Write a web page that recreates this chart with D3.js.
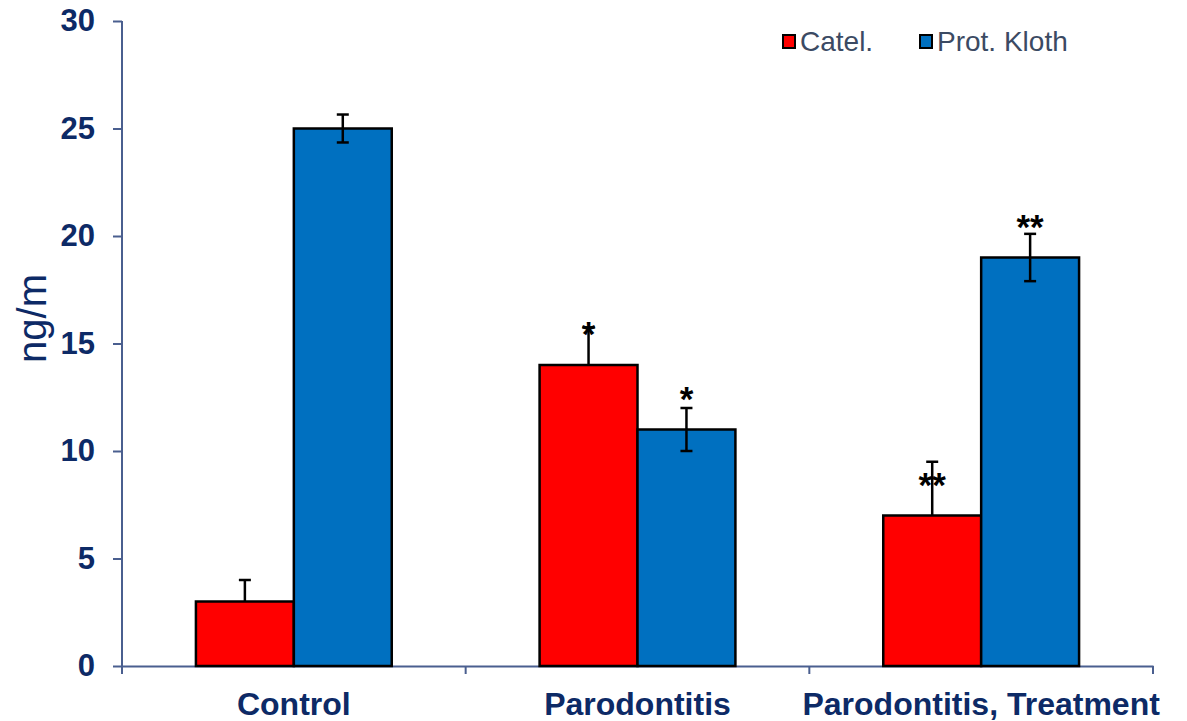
<!DOCTYPE html>
<html>
<head>
<meta charset="utf-8">
<script src="https://cdn.jsdelivr.net/npm/d3@7"></script>
<style>
  body { margin: 0; background: #fff; }
  svg { font-family: Arial, "Liberation Sans", sans-serif; }
</style>
</head>
<body>
<script>
const width = 1187;
const height = 721;

// Data
const groups = ["Control", "Parodontitis", "Parodontitis, Treatment"];
const seriesNames = ["Catel.", "Prot. Kloth"];
const seriesColors = ["#ff0000", "#0070c0"];
const catelValues = [3, 14, 7];
const klothValues = [25, 11, 19];
const catelErrUp = [1, 1.75, 2.5];
const catelErrDown = [0, 0, 0];
const klothErrUp = [0.65, 1, 1.1];
const klothErrDown = [0.65, 1, 1.1];
const catelMarks = ["", "*", "**"];
const klothMarks = ["", "*", "**"];
const yTicks = [0, 5, 10, 15, 20, 25, 30];

const axisColor = "#4a5f8f";
const textColor = "#0d2a66";

const margin = { left: 122, right: 34, top: 21, bottom: 55 };

const svg = d3.select("body").append("svg")
    .attr("width", width)
    .attr("height", height);

const x0 = d3.scaleBand()
    .domain(groups)
    .range([margin.left, width - margin.right]);

const x1 = d3.scaleBand()
    .domain(seriesNames)
    .range([0, x0.bandwidth()])
    .paddingOuter(0.755)
    .paddingInner(0);

const y = d3.scaleLinear()
    .domain([0, 30])
    .range([height - margin.bottom, margin.top]);

// Build table of bars
const bars = [];
groups.forEach((g, i) => {
    bars.push({ group: g, series: seriesNames[0], value: catelValues[i], up: catelErrUp[i], down: catelErrDown[i], mark: catelMarks[i], color: seriesColors[0] });
    bars.push({ group: g, series: seriesNames[1], value: klothValues[i], up: klothErrUp[i], down: klothErrDown[i], mark: klothMarks[i], color: seriesColors[1] });
});

// Y axis
const yAxis = svg.append("g")
    .attr("transform", `translate(${margin.left},0)`)
    .call(d3.axisLeft(y).tickValues(yTicks).tickSize(9).tickPadding(18));
yAxis.select(".domain").attr("stroke", axisColor).attr("stroke-width", 2)
    .attr("d", `M0,${y(30)}V${y(0) + 8}`);
yAxis.selectAll(".tick line").attr("stroke", axisColor).attr("stroke-width", 2);
yAxis.selectAll(".tick text")
    .attr("fill", textColor)
    .style("font-size", "31px")
    .style("font-weight", "bold");

// X axis
const xAxis = svg.append("g")
    .attr("transform", `translate(0,${y(0)})`)
    .call(d3.axisBottom(x0).tickSize(0).tickPadding(26));
xAxis.select(".domain").attr("stroke", axisColor).attr("stroke-width", 2);
xAxis.selectAll(".tick text")
    .attr("fill", textColor)
    .style("font-size", "32px")
    .style("font-weight", "bold");
// category boundary ticks
const boundaries = groups.map(g => x0(g)).concat([x0.range()[1]]);
xAxis.selectAll(".boundary")
    .data(boundaries)
    .enter().append("line")
    .attr("x1", d => d).attr("x2", d => d)
    .attr("y1", 0).attr("y2", 8)
    .attr("stroke", axisColor)
    .attr("stroke-width", 2);

// Y label
svg.append("text")
    .attr("transform", `translate(46,${(y(30) + y(0)) / 2 - 25}) rotate(-90)`)
    .attr("text-anchor", "middle")
    .attr("fill", textColor)
    .style("font-size", "40px")
    .text("ng/m");

// Bars
const barG = svg.append("g");
barG.selectAll("rect")
    .data(bars)
    .enter().append("rect")
    .attr("x", d => x0(d.group) + x1(d.series))
    .attr("y", d => y(d.value))
    .attr("width", x1.bandwidth())
    .attr("height", d => y(0) - y(d.value))
    .attr("fill", d => d.color)
    .attr("stroke", "#000")
    .attr("stroke-width", 2.5);

// Error bars
const errG = svg.append("g").attr("stroke", "#000").attr("stroke-width", 2.5);
const cx = d => x0(d.group) + x1(d.series) + x1.bandwidth() / 2;
errG.selectAll(".stem")
    .data(bars)
    .enter().append("line")
    .attr("x1", cx).attr("x2", cx)
    .attr("y1", d => y(d.value - d.down))
    .attr("y2", d => y(d.value + d.up));
errG.selectAll(".capTop")
    .data(bars)
    .enter().append("line")
    .attr("x1", d => cx(d) - 6).attr("x2", d => cx(d) + 6)
    .attr("y1", d => y(d.value + d.up))
    .attr("y2", d => y(d.value + d.up));
errG.selectAll(".capBottom")
    .data(bars.filter(d => d.down > 0))
    .enter().append("line")
    .attr("x1", d => cx(d) - 6).attr("x2", d => cx(d) + 6)
    .attr("y1", d => y(d.value - d.down))
    .attr("y2", d => y(d.value - d.down));

// Significance marks, centred about 1.8 units above each bar
svg.append("g").selectAll("text")
    .data(bars.filter(d => d.mark))
    .enter().append("text")
    .attr("x", cx)
    .attr("y", d => y(d.value + 1.8) + 20)
    .attr("text-anchor", "middle")
    .attr("fill", "#000")
    .style("font-size", "35px")
    .style("font-weight", "bold")
    .text(d => d.mark);

// Legend
const legend = svg.append("g").attr("transform", "translate(783,30)");
const legendX = [0, 137];
seriesNames.forEach((s, i) => {
    const item = legend.append("g").attr("transform", `translate(${legendX[i]},0)`);
    item.append("rect")
        .attr("x", 0).attr("y", 5)
        .attr("width", 12).attr("height", 13)
        .attr("fill", seriesColors[i])
        .attr("stroke", "#000")
        .attr("stroke-width", 2);
    item.append("text")
        .attr("x", 17).attr("y", 21)
        .attr("fill", "#3b4a63")
        .style("font-size", "28px")
        .text(s);
});
</script>
</body>
</html>
